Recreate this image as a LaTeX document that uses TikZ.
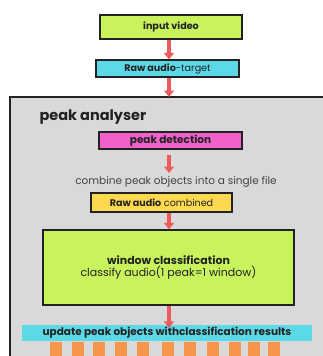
\documentclass[tikz,border=0pt]{standalone}
\usepackage{fontspec}
\setmainfont{Poppins}
\usetikzlibrary{positioning,arrows.meta,calc}
\definecolor{lime}{HTML}{C9F35C}
\definecolor{sky}{HTML}{5DD8E6}
\definecolor{pinky}{HTML}{F062C9}
\definecolor{sunny}{HTML}{FDD94F}
\definecolor{panel}{HTML}{D9D9D9}
\definecolor{orangy}{HTML}{F7954A}
\definecolor{arrowred}{HTML}{EE5A5C}
\definecolor{ink}{HTML}{222222}

\begin{document}
\begin{tikzpicture}[
  x=1pt, y=-1pt,
  box/.style={draw=ink, line width=1.3pt, inner sep=0pt, font=\fontsize{9.6}{11}\selectfont,
              align=center, text=ink},
  arr/.style={-{Triangle[width=10pt,length=6.5pt]}, line width=3.4pt, arrowred},
  peakbar/.style={fill=orangy, minimum width=12pt, minimum height=20pt, inner sep=0pt, anchor=north}
]
  \clip (0,0) rectangle (323,356);
  \fill[white] (0,0) rectangle (323,356);

  % input side
  \node[box, fill=lime, minimum width=142pt, minimum height=24pt] (video) at (171,27) {\textbf{input video}};
  \node[box, fill=sky, minimum width=143pt, minimum height=17pt] (target) at (167.5,68.5) {\textbf{Raw audio}-target};

  % peak analyser panel
  \draw[ink, line width=1.3pt, fill=panel] (10,97) rectangle (340,380);
  \coordinate (paneltop) at (169,97);
  \node[anchor=west, font=\fontsize{14.5}{16}\selectfont\bfseries, text=ink] (title) at (36,117) {peak analyser};

  \node[box, fill=pinky, minimum width=143pt, minimum height=17pt, font=\fontsize{10.5}{12}\selectfont] (detect) at (170.5,140.5) {\textbf{peak detection}};
  \node[font=\fontsize{10.5}{12}\selectfont, text=ink!85] (combine) at (176,182) {combine peak objects into a single file};
  \node[box, fill=sunny, minimum width=141pt, minimum height=19pt] (combined) at (161.5,202.5) {\textbf{Raw audio} combined};
  \node[box, fill=lime, minimum width=251pt, minimum height=75pt, font=\fontsize{11}{12.5}\selectfont] (window) at (168.5,267.5)
    {\textbf{window classification}\\classify audio(1 peak=1 window)};
  \node[fill=sky, minimum width=290pt, minimum height=16pt, inner sep=0pt, text=ink,
        font=\fontsize{10.5}{12}\selectfont\bfseries] (update) at (167,333)
    {update peak objects withclassification results};

  % peaks
  \foreach \px [count=\i] in {56,77.5,99,121,143,168,190,212.5,235,254,274}
    \node[peakbar] (peak\i) at (\px,342) {};

  \draw[arr] (video.south -| paneltop) -- (target.north -| paneltop);
  \draw[arr] (target.south -| paneltop) -- (paneltop);
  \draw[arr, shorten <=5pt] (detect.south -| paneltop) -- (combine.north -| paneltop);
  \draw[arr] (combined.south -| paneltop) -- (window.north -| paneltop);
  \draw[arr] (window.south -| paneltop) -- ([yshift=-3pt]update.north -| paneltop);
\end{tikzpicture}
\end{document}
